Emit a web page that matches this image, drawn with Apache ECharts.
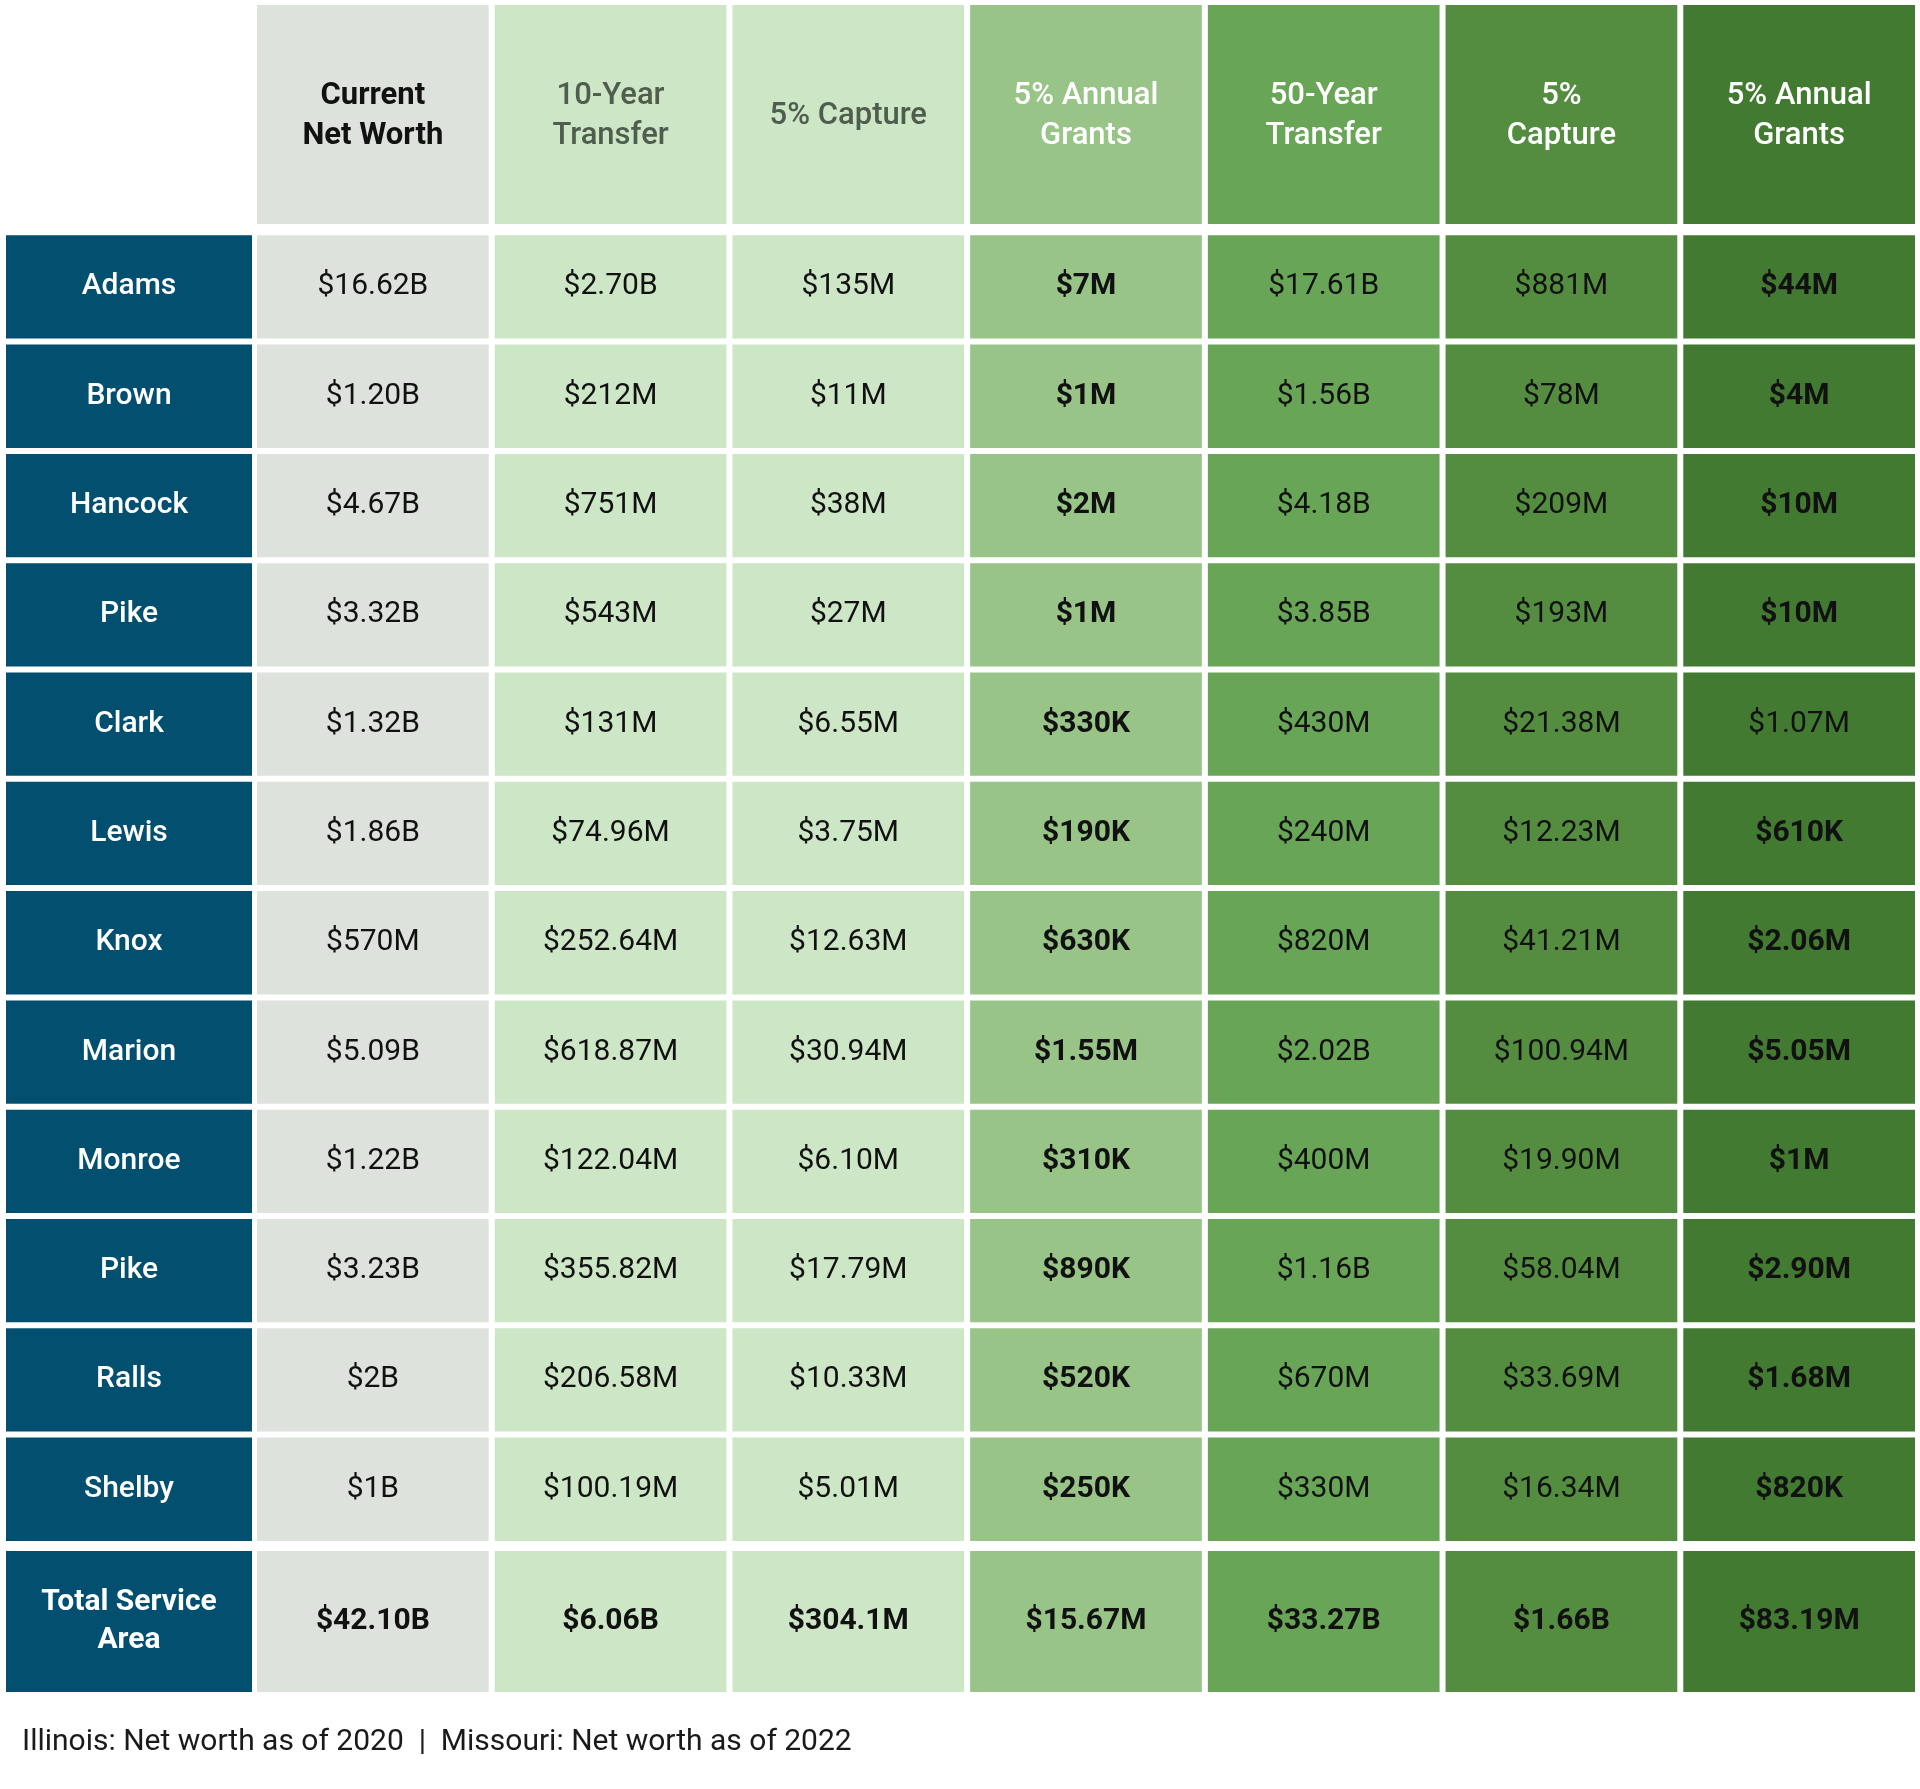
<!DOCTYPE html>
<html><head><meta charset="utf-8">
<script src="https://cdn.jsdelivr.net/npm/echarts@6/dist/echarts.min.js"></script>
<style>html,body{margin:0;padding:0;background:#ffffff}#c{width:1920px;height:1789px}</style>
</head><body><div id="c"></div>
<script>
// ---- data ----
const columnHeaders = ['Current\nNet Worth', '10-Year\nTransfer', '5% Capture', '5% Annual\nGrants', '50-Year\nTransfer', '5%\nCapture', '5% Annual\nGrants'];
const counties = ['Adams', 'Brown', 'Hancock', 'Pike', 'Clark', 'Lewis', 'Knox', 'Marion', 'Monroe', 'Pike', 'Ralls', 'Shelby'];
const currentNetWorth = ['$16.62B', '$1.20B', '$4.67B', '$3.32B', '$1.32B', '$1.86B', '$570M', '$5.09B', '$1.22B', '$3.23B', '$2B', '$1B'];
const transfer10 = ['$2.70B', '$212M', '$751M', '$543M', '$131M', '$74.96M', '$252.64M', '$618.87M', '$122.04M', '$355.82M', '$206.58M', '$100.19M'];
const capture10 = ['$135M', '$11M', '$38M', '$27M', '$6.55M', '$3.75M', '$12.63M', '$30.94M', '$6.10M', '$17.79M', '$10.33M', '$5.01M'];
const grants10 = ['$7M', '$1M', '$2M', '$1M', '$330K', '$190K', '$630K', '$1.55M', '$310K', '$890K', '$520K', '$250K'];
const transfer50 = ['$17.61B', '$1.56B', '$4.18B', '$3.85B', '$430M', '$240M', '$820M', '$2.02B', '$400M', '$1.16B', '$670M', '$330M'];
const capture50 = ['$881M', '$78M', '$209M', '$193M', '$21.38M', '$12.23M', '$41.21M', '$100.94M', '$19.90M', '$58.04M', '$33.69M', '$16.34M'];
const grants50 = ['$44M', '$4M', '$10M', '$10M', '$1.07M', '$610K', '$2.06M', '$5.05M', '$1M', '$2.90M', '$1.68M', '$820K'];
const totalLabel = 'Total Service\nArea';
const totals = ['$42.10B', '$6.06B', '$304.1M', '$15.67M', '$33.27B', '$1.66B', '$83.19M'];
const footnote = 'Illinois: Net worth as of 2020  |  Missouri: Net worth as of 2022';

// ---- styling ----
const valueColumns = [currentNetWorth, transfer10, capture10, grants10, transfer50, capture50, grants50];
const FONT = 'Roboto, "Noto Sans", sans-serif';
const GAP = 6;
const labelFill = '#024f6f';
const colFill = ['#dee2dc', '#cde6c5', '#cde6c5', '#98c488', '#69a556', '#548d40', '#437a31'];
const headColor = ['#111111', '#4f5d4e', '#4f5d4e', '#ffffff', '#ffffff', '#ffffff', '#ffffff'];
const headWeight = ['bold', 500, 500, 500, 500, 500, 500];
const boldCol = [false, false, false, true, false, false, true];
const regularCells = { 6: [4] };

function makeRender(getStyle) {
  return function (params, api) {
    const c = api.value(0), r = api.value(1);
    const p = api.coord([c, r]);
    const sz = api.size([1, 1]);
    const s = getStyle(c, r);
    return {
      type: 'group',
      children: [
        { type: 'rect', shape: { x: p[0] - sz[0] / 2 + GAP / 2, y: p[1] - sz[1] / 2 + GAP / 2, width: sz[0] - GAP, height: sz[1] - GAP }, style: { fill: s.fill } },
        { type: 'text', style: { text: s.text, x: p[0], y: p[1] + (s.dy || 0), align: 'center', verticalAlign: 'middle', fill: s.color, fontSize: s.size || 30, fontWeight: s.weight, fontFamily: FONT, lineHeight: s.lh || 38 } }
      ]
    };
  };
}

const colIds = columnHeaders.map((h, i) => 'c' + i);
const rowIds = counties.map((n, i) => 'r' + i);

const grids = [
  { left: 254, top: 2, width: 1664, height: 225 },          // header values
  { left: 3, top: 232.3, width: 252, height: 1311.6 },      // row labels
  { left: 254, top: 232.3, width: 1664, height: 1311.6 },   // body values
  { left: 3, top: 1548, width: 252, height: 147 },          // total label
  { left: 254, top: 1548, width: 1664, height: 147 }        // total values
];
const xData = [colIds, ['l'], colIds, ['l'], colIds];
const yData = [['h'], rowIds, rowIds, ['t'], ['t']];

const bodyData = [];
valueColumns.forEach((col, c) => col.forEach((v, r) => bodyData.push([c, r])));

const option = {
  animation: false,
  backgroundColor: '#ffffff',
  grid: grids,
  xAxis: grids.map((g, i) => ({ type: 'category', gridIndex: i, data: xData[i], show: false })),
  yAxis: grids.map((g, i) => ({ type: 'category', gridIndex: i, data: yData[i], inverse: true, show: false })),
  series: [
    { type: 'custom', xAxisIndex: 0, yAxisIndex: 0, data: columnHeaders.map((h, i) => [i, 0]),
      renderItem: makeRender((c) => ({ fill: colFill[c], text: columnHeaders[c], color: headColor[c], weight: headWeight[c], size: 31, lh: 40, dy: 2 })) },
    { type: 'custom', xAxisIndex: 1, yAxisIndex: 1, data: counties.map((n, i) => [0, i]),
      renderItem: makeRender((c, r) => ({ fill: labelFill, text: counties[r], color: '#ffffff', weight: 500 })) },
    { type: 'custom', xAxisIndex: 2, yAxisIndex: 2, data: bodyData,
      renderItem: makeRender((c, r) => {
        const bold = boldCol[c] && !((regularCells[c] || []).includes(r));
        return { fill: colFill[c], text: valueColumns[c][r], color: '#111111', weight: bold ? 'bold' : 'normal' };
      }) },
    { type: 'custom', xAxisIndex: 3, yAxisIndex: 3, data: [[0, 0]],
      renderItem: makeRender(() => ({ fill: labelFill, text: totalLabel, color: '#ffffff', weight: 'bold', size: 30, lh: 38 })) },
    { type: 'custom', xAxisIndex: 4, yAxisIndex: 4, data: totals.map((t, i) => [i, 0]),
      renderItem: makeRender((c) => ({ fill: colFill[c], text: totals[c], color: '#111111', weight: 'bold' })) }
  ],
  graphic: [
    { type: 'text', left: 22, top: 1727, style: { text: footnote, fontSize: 30, fontFamily: FONT, fill: '#1a1a1a' } }
  ]
};

const chart = echarts.init(document.getElementById('c'), null, { renderer: 'canvas' });
chart.setOption(option);
</script>
</body></html>
